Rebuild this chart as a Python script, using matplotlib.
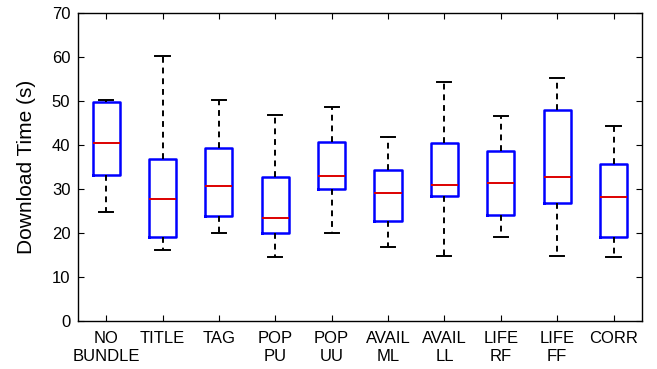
import matplotlib
matplotlib.use('Agg')
import matplotlib.pyplot as plt
import numpy as np

plt.rcParams['font.family'] = ['Liberation Sans', 'DejaVu Sans']

labels = ['NO\nBUNDLE', 'TITLE', 'TAG', 'POP\nPU', 'POP\nUU',
          'AVAIL\nML', 'AVAIL\nLL', 'LIFE\nRF', 'LIFE\nFF', 'CORR']
whislo = [24.7, 16.2, 20.1, 14.6, 20.1, 16.8, 14.7, 19.0, 14.7, 14.6]
q1 = [33.1, 19.2, 23.8, 19.9, 30.1, 22.8, 28.3, 24.2, 26.8, 19.1]
med = [40.5, 27.8, 30.6, 23.5, 33.0, 29.1, 30.8, 31.3, 32.8, 28.1]
q3 = [49.75, 36.7, 39.4, 32.8, 40.7, 34.4, 40.5, 38.7, 47.9, 35.6]
whishi = [50.2, 60.1, 50.2, 46.8, 48.7, 41.7, 54.4, 46.6, 55.1, 44.4]

stats = []
for i in range(len(labels)):
    stats.append({'label': labels[i], 'whislo': whislo[i], 'q1': q1[i],
                  'med': med[i], 'q3': q3[i], 'whishi': whishi[i], 'fliers': []})

fig = plt.figure(figsize=(6.57, 3.69), dpi=100)
ax = fig.add_axes([0.1187, 0.130, 0.858, 0.835])
ax.bxp(stats, widths=0.48, showfliers=False,
       boxprops=dict(color='#0000ff', linewidth=1.8),
       medianprops=dict(color='#dd0000', linewidth=1.4),
       whiskerprops=dict(color='black', linestyle=(0, (3, 2.5)), linewidth=1.4),
       capprops=dict(color='black', linewidth=1.4),
       capwidths=0.25)

ax.set_xlim(0.5, 10.5)
ax.set_ylim(0, 70)
ax.set_yticks(np.arange(0, 71, 10))
ax.set_ylabel('Download Time (s)', fontsize=15)
ax.yaxis.set_label_coords(-0.075, 0.5)
ax.tick_params(direction='in', top=True, right=True, labelsize=12, length=4)
ax.tick_params(axis='y', pad=5.5)
ax.tick_params(axis='x', pad=7.5)
for s in ax.spines.values():
    s.set_linewidth(1.0)

fig.savefig('out.png', dpi=100)
